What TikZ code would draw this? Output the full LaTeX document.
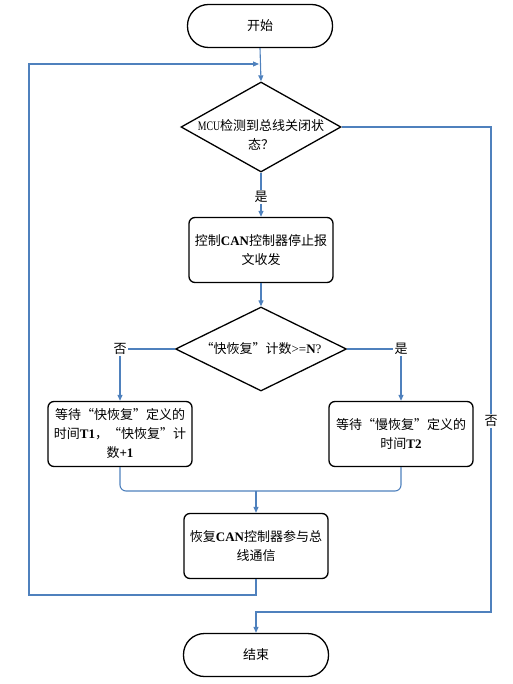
\documentclass[tikz,border=0pt]{standalone}
\usepackage{fontspec}
\setmainfont{Noto Sans CJK SC}
\newfontfamily\tnr{Liberation Serif}
\newfontfamily\tnrn[FakeStretch=0.75]{Liberation Serif}
\usetikzlibrary{arrows.meta,shapes.geometric}
\definecolor{flowblue}{RGB}{79,129,189}
\newcommand{\bl}[1]{{\tnr\bfseries #1}}

\begin{document}
\begin{tikzpicture}[x=1pt,y=-1pt,font=\fontsize{13}{19}\selectfont,
  terminal/.style={draw=black,line width=1.3pt,rounded corners=21pt,minimum width=145pt,minimum height=43pt},
  procbox/.style={draw=black,line width=1.3pt,rounded corners=6pt,minimum width=144pt,minimum height=65pt,align=center,inner sep=0pt},
  decision/.style={draw=black,line width=1.3pt,diamond,inner sep=0pt},
  lbl/.style={inner sep=1pt},
  line/.style={draw=flowblue,line width=1.1pt},
  flow/.style={line,-{Triangle[length=6pt,width=5pt]}}]
\useasboundingbox (0,0) rectangle (512,684);

% Nodes
\node[terminal] (start) at (260,26) {开始};
\node[decision,minimum width=160pt,minimum height=90pt,
  label={[align=center,yshift=-8pt]center:{{\tnrn MCU}检测到总线关闭状\\态？}}] (d1) at (261,127) {};
\node[lbl] (yes1) at (261,197) {是};
\node[procbox] (b1) at (261,250) {控制\bl{CAN}控制器停止报\\文收发};
\node[decision,minimum width=171pt,minimum height=84pt,
  label={center:{“快恢复”计数{\tnr >=}\bl{N}{\tnr ?}}}] (d2) at (261,349) {};
\node[lbl] (no2) at (120,349) {否};
\node[lbl] (yes2) at (401,349) {是};
\node[procbox] (b2) at (120,434) {等待“快恢复”定义的\\时间\bl{T1}，“快恢复”计\\数\bl{+1}};
\node[procbox] (b3) at (401,434) {等待“慢恢复”定义的\\时间\bl{T2}};
\node[procbox] (b4) at (256,546) {恢复\bl{CAN}控制器参与总\\线通信};
\node[terminal] (stop) at (256,655) {结束};

% Corners
\coordinate (merge) at (256,491);
\coordinate (loopbl) at (29,595);
\coordinate (looptl) at (29,64);
\coordinate (loopend) at (259,64);
\coordinate (rtop) at (491,127);
\coordinate (rbot) at (491,612);

% Connectors
\draw[flow] (start.south) -- (d1.north);
\draw[line] (d1.south) -- (yes1.north);
\draw[flow] (yes1.south) -- (b1.north);
\draw[flow] (b1.south) -- (d2.north);
\draw[line] (d2.west) -- (no2.east);
\draw[flow] (no2.south) -- (b2.north);
\draw[line] (d2.east) -- (yes2.west);
\draw[flow] (yes2.south) -- (b3.north);
\draw[line,rounded corners=6pt] (b2.south) |- (merge) -| (b3.south);
\draw[flow] (merge) -- (b4.north);
\draw[flow] (b4.south) |- (loopbl) -- (looptl) -- (loopend);
\draw[flow] (d1.east) -- (rtop) -- node[lbl,fill=white,pos=0.606] {否} (rbot) -| (stop.north);

\end{tikzpicture}
\end{document}
